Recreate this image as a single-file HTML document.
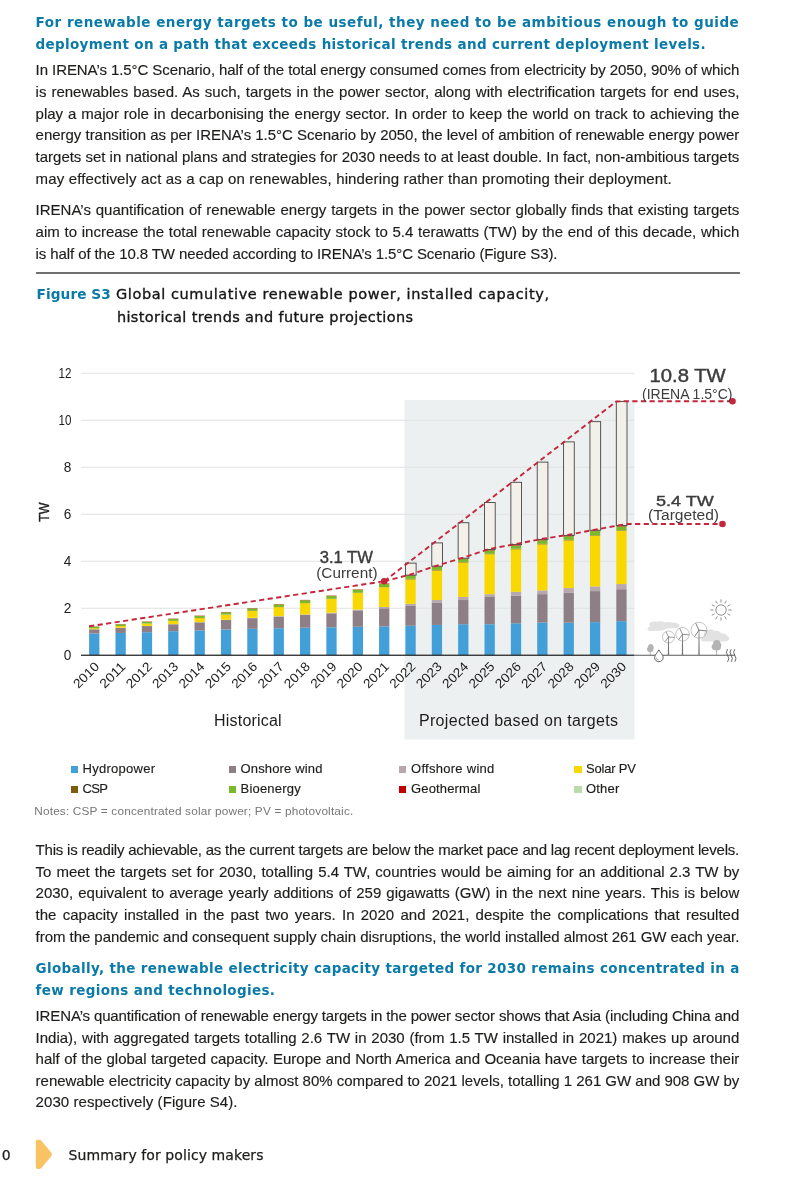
<!DOCTYPE html>
<html lang="en"><head><meta charset="utf-8"><title>Summary for policy makers</title>
<style>
html,body{margin:0;padding:0;background:#fff}
#pg{position:relative;width:800px;height:1180px;overflow:hidden;background:#fff}
.l{position:absolute;white-space:pre;line-height:20px;height:20px}
.b{font-family:"Liberation Sans",sans-serif;font-size:15px;color:#1d1d1b;-webkit-text-stroke:0.15px #1d1d1b}
.h{font-family:"DejaVu Sans","Liberation Sans",sans-serif;font-size:13.5px;font-weight:bold;color:#0a7aa8}
.hb{font-size:13.7px}
.c{font-family:"DejaVu Sans","Liberation Sans",sans-serif;font-size:14.5px;color:#161616;-webkit-text-stroke:0.35px #161616}
.n{font-family:"Liberation Sans",sans-serif;font-size:11.8px;color:#777}
.f{font-family:"DejaVu Sans","Liberation Sans",sans-serif;font-size:14px;color:#1d1d1b;-webkit-text-stroke:0.25px #1d1d1b}
.g{font-family:"Liberation Sans",sans-serif;font-size:13px;color:#1d1d1b;-webkit-text-stroke:0.15px #1d1d1b}
.k{font-family:"Liberation Sans",sans-serif;font-size:16px;color:#1d1d1b}
.sq{position:absolute;width:7.5px;height:7.5px}
#rule{position:absolute;left:35.6px;top:272.4px;width:704px;height:1.2px;background:#707070}
svg{position:absolute;left:0;top:0}
svg text{font-family:"Liberation Sans",sans-serif}
</style></head>
<body><div id="pg">
<svg width="800" height="1180" viewBox="0 0 800 1180">
<rect x="404.4" y="400" width="230.1" height="339.6" fill="#edf0f1"/>
<rect x="81" y="372.75" width="553.5" height="1" fill="#e1e2e2"/>
<rect x="81" y="419.75" width="553.5" height="1" fill="#e1e2e2"/>
<rect x="81" y="466.75" width="553.5" height="1" fill="#e1e2e2"/>
<rect x="81" y="513.75" width="553.5" height="1" fill="#e1e2e2"/>
<rect x="81" y="560.75" width="553.5" height="1" fill="#e1e2e2"/>
<rect x="81" y="607.75" width="553.5" height="1" fill="#e1e2e2"/>
<rect x="89.10" y="633.51" width="10.3" height="21.74" fill="#439fd8"/>
<rect x="89.10" y="629.33" width="10.3" height="4.18" fill="#8d7f85"/>
<rect x="89.10" y="629.26" width="10.3" height="0.07" fill="#b9a7ae"/>
<rect x="89.10" y="628.32" width="10.3" height="0.94" fill="#f8d800"/>
<rect x="89.10" y="628.30" width="10.3" height="0.02" fill="#7d5a0c"/>
<rect x="89.10" y="626.74" width="10.3" height="1.55" fill="#7ab929"/>
<rect x="89.10" y="626.51" width="10.3" height="0.24" fill="#c00000"/>
<rect x="115.46" y="632.92" width="10.3" height="22.33" fill="#439fd8"/>
<rect x="115.46" y="627.85" width="10.3" height="5.08" fill="#8d7f85"/>
<rect x="115.46" y="627.75" width="10.3" height="0.09" fill="#b9a7ae"/>
<rect x="115.46" y="626.06" width="10.3" height="1.69" fill="#f8d800"/>
<rect x="115.46" y="626.02" width="10.3" height="0.05" fill="#7d5a0c"/>
<rect x="115.46" y="624.32" width="10.3" height="1.69" fill="#7ab929"/>
<rect x="115.46" y="624.08" width="10.3" height="0.24" fill="#c00000"/>
<rect x="141.82" y="632.22" width="10.3" height="23.03" fill="#439fd8"/>
<rect x="141.82" y="626.06" width="10.3" height="6.16" fill="#8d7f85"/>
<rect x="141.82" y="625.95" width="10.3" height="0.12" fill="#b9a7ae"/>
<rect x="141.82" y="623.57" width="10.3" height="2.37" fill="#f8d800"/>
<rect x="141.82" y="623.50" width="10.3" height="0.07" fill="#7d5a0c"/>
<rect x="141.82" y="621.69" width="10.3" height="1.81" fill="#7ab929"/>
<rect x="141.82" y="621.44" width="10.3" height="0.25" fill="#c00000"/>
<rect x="168.18" y="631.16" width="10.3" height="24.09" fill="#439fd8"/>
<rect x="168.18" y="624.28" width="10.3" height="6.89" fill="#8d7f85"/>
<rect x="168.18" y="624.11" width="10.3" height="0.16" fill="#b9a7ae"/>
<rect x="168.18" y="620.92" width="10.3" height="3.20" fill="#f8d800"/>
<rect x="168.18" y="620.82" width="10.3" height="0.09" fill="#7d5a0c"/>
<rect x="168.18" y="618.85" width="10.3" height="1.97" fill="#7ab929"/>
<rect x="168.18" y="618.59" width="10.3" height="0.26" fill="#c00000"/>
<rect x="194.54" y="630.34" width="10.3" height="24.91" fill="#439fd8"/>
<rect x="194.54" y="622.33" width="10.3" height="8.01" fill="#8d7f85"/>
<rect x="194.54" y="622.14" width="10.3" height="0.19" fill="#b9a7ae"/>
<rect x="194.54" y="618.10" width="10.3" height="4.04" fill="#f8d800"/>
<rect x="194.54" y="617.99" width="10.3" height="0.11" fill="#7d5a0c"/>
<rect x="194.54" y="615.88" width="10.3" height="2.12" fill="#7ab929"/>
<rect x="194.54" y="615.61" width="10.3" height="0.27" fill="#c00000"/>
<rect x="220.90" y="629.52" width="10.3" height="25.73" fill="#439fd8"/>
<rect x="220.90" y="620.02" width="10.3" height="9.49" fill="#8d7f85"/>
<rect x="220.90" y="619.74" width="10.3" height="0.28" fill="#b9a7ae"/>
<rect x="220.90" y="614.62" width="10.3" height="5.12" fill="#f8d800"/>
<rect x="220.90" y="614.51" width="10.3" height="0.11" fill="#7d5a0c"/>
<rect x="220.90" y="612.25" width="10.3" height="2.26" fill="#7ab929"/>
<rect x="220.90" y="611.97" width="10.3" height="0.28" fill="#c00000"/>
<rect x="247.26" y="628.81" width="10.3" height="26.44" fill="#439fd8"/>
<rect x="247.26" y="618.17" width="10.3" height="10.65" fill="#8d7f85"/>
<rect x="247.26" y="617.84" width="10.3" height="0.33" fill="#b9a7ae"/>
<rect x="247.26" y="611.00" width="10.3" height="6.84" fill="#f8d800"/>
<rect x="247.26" y="610.89" width="10.3" height="0.11" fill="#7d5a0c"/>
<rect x="247.26" y="608.42" width="10.3" height="2.47" fill="#7ab929"/>
<rect x="247.26" y="608.13" width="10.3" height="0.29" fill="#c00000"/>
<rect x="273.62" y="628.23" width="10.3" height="27.02" fill="#439fd8"/>
<rect x="273.62" y="616.57" width="10.3" height="11.66" fill="#8d7f85"/>
<rect x="273.62" y="616.12" width="10.3" height="0.45" fill="#b9a7ae"/>
<rect x="273.62" y="607.10" width="10.3" height="9.02" fill="#f8d800"/>
<rect x="273.62" y="606.98" width="10.3" height="0.12" fill="#7d5a0c"/>
<rect x="273.62" y="604.37" width="10.3" height="2.61" fill="#7ab929"/>
<rect x="273.62" y="604.07" width="10.3" height="0.31" fill="#c00000"/>
<rect x="299.98" y="627.71" width="10.3" height="27.54" fill="#439fd8"/>
<rect x="299.98" y="615.02" width="10.3" height="12.69" fill="#8d7f85"/>
<rect x="299.98" y="614.45" width="10.3" height="0.56" fill="#b9a7ae"/>
<rect x="299.98" y="603.13" width="10.3" height="11.33" fill="#f8d800"/>
<rect x="299.98" y="602.99" width="10.3" height="0.13" fill="#7d5a0c"/>
<rect x="299.98" y="600.22" width="10.3" height="2.77" fill="#7ab929"/>
<rect x="299.98" y="599.90" width="10.3" height="0.32" fill="#c00000"/>
<rect x="326.34" y="627.28" width="10.3" height="27.97" fill="#439fd8"/>
<rect x="326.34" y="613.33" width="10.3" height="13.96" fill="#8d7f85"/>
<rect x="326.34" y="612.67" width="10.3" height="0.66" fill="#b9a7ae"/>
<rect x="326.34" y="598.97" width="10.3" height="13.70" fill="#f8d800"/>
<rect x="326.34" y="598.82" width="10.3" height="0.15" fill="#7d5a0c"/>
<rect x="326.34" y="595.91" width="10.3" height="2.91" fill="#7ab929"/>
<rect x="326.34" y="595.58" width="10.3" height="0.33" fill="#c00000"/>
<rect x="352.70" y="626.79" width="10.3" height="28.46" fill="#439fd8"/>
<rect x="352.70" y="610.39" width="10.3" height="16.40" fill="#8d7f85"/>
<rect x="352.70" y="609.59" width="10.3" height="0.80" fill="#b9a7ae"/>
<rect x="352.70" y="592.90" width="10.3" height="16.69" fill="#f8d800"/>
<rect x="352.70" y="592.75" width="10.3" height="0.15" fill="#7d5a0c"/>
<rect x="352.70" y="589.63" width="10.3" height="3.13" fill="#7ab929"/>
<rect x="352.70" y="589.29" width="10.3" height="0.33" fill="#c00000"/>
<rect x="379.06" y="626.35" width="10.3" height="28.90" fill="#439fd8"/>
<rect x="379.06" y="608.27" width="10.3" height="18.07" fill="#8d7f85"/>
<rect x="379.06" y="606.96" width="10.3" height="1.32" fill="#b9a7ae"/>
<rect x="379.06" y="587.15" width="10.3" height="19.81" fill="#f8d800"/>
<rect x="379.06" y="587.00" width="10.3" height="0.15" fill="#7d5a0c"/>
<rect x="379.06" y="583.64" width="10.3" height="3.36" fill="#7ab929"/>
<rect x="379.06" y="583.27" width="10.3" height="0.37" fill="#c00000"/>
<rect x="405.42" y="625.76" width="10.3" height="29.49" fill="#439fd8"/>
<rect x="405.42" y="605.43" width="10.3" height="20.33" fill="#8d7f85"/>
<rect x="405.42" y="603.78" width="10.3" height="1.64" fill="#b9a7ae"/>
<rect x="405.42" y="579.35" width="10.3" height="24.44" fill="#f8d800"/>
<rect x="405.42" y="578.88" width="10.3" height="0.47" fill="#7d5a0c"/>
<rect x="405.42" y="575.98" width="10.3" height="2.89" fill="#7ab929"/>
<rect x="405.42" y="575.40" width="10.3" height="0.59" fill="#c00000"/>
<rect x="405.42" y="575.12" width="10.3" height="0.28" fill="#b9dcaa"/>
<rect x="405.42" y="563.13" width="10.70" height="11.99" fill="#f3f0ea" stroke="#454545" stroke-width="0.9"/>
<rect x="431.78" y="624.93" width="10.3" height="30.32" fill="#439fd8"/>
<rect x="431.78" y="602.49" width="10.3" height="22.44" fill="#8d7f85"/>
<rect x="431.78" y="600.02" width="10.3" height="2.47" fill="#b9a7ae"/>
<rect x="431.78" y="570.41" width="10.3" height="29.61" fill="#f8d800"/>
<rect x="431.78" y="569.95" width="10.3" height="0.47" fill="#7d5a0c"/>
<rect x="431.78" y="567.05" width="10.3" height="2.89" fill="#7ab929"/>
<rect x="431.78" y="566.47" width="10.3" height="0.59" fill="#c00000"/>
<rect x="431.78" y="566.18" width="10.3" height="0.28" fill="#b9dcaa"/>
<rect x="431.78" y="542.92" width="10.70" height="23.26" fill="#f3f0ea" stroke="#454545" stroke-width="0.9"/>
<rect x="458.14" y="624.23" width="10.3" height="31.02" fill="#439fd8"/>
<rect x="458.14" y="600.02" width="10.3" height="24.21" fill="#8d7f85"/>
<rect x="458.14" y="596.97" width="10.3" height="3.05" fill="#b9a7ae"/>
<rect x="458.14" y="562.42" width="10.3" height="34.55" fill="#f8d800"/>
<rect x="458.14" y="561.96" width="10.3" height="0.47" fill="#7d5a0c"/>
<rect x="458.14" y="559.06" width="10.3" height="2.89" fill="#7ab929"/>
<rect x="458.14" y="558.48" width="10.3" height="0.59" fill="#c00000"/>
<rect x="458.14" y="558.20" width="10.3" height="0.28" fill="#b9dcaa"/>
<rect x="458.14" y="522.71" width="10.70" height="35.49" fill="#f3f0ea" stroke="#454545" stroke-width="0.9"/>
<rect x="484.50" y="624.23" width="10.3" height="31.02" fill="#439fd8"/>
<rect x="484.50" y="596.97" width="10.3" height="27.26" fill="#8d7f85"/>
<rect x="484.50" y="594.15" width="10.3" height="2.82" fill="#b9a7ae"/>
<rect x="484.50" y="554.20" width="10.3" height="39.95" fill="#f8d800"/>
<rect x="484.50" y="553.73" width="10.3" height="0.47" fill="#7d5a0c"/>
<rect x="484.50" y="550.37" width="10.3" height="3.36" fill="#7ab929"/>
<rect x="484.50" y="549.78" width="10.3" height="0.59" fill="#c00000"/>
<rect x="484.50" y="549.50" width="10.3" height="0.28" fill="#b9dcaa"/>
<rect x="484.50" y="502.50" width="10.70" height="47.00" fill="#f3f0ea" stroke="#454545" stroke-width="0.9"/>
<rect x="510.86" y="623.29" width="10.3" height="31.96" fill="#439fd8"/>
<rect x="510.86" y="595.56" width="10.3" height="27.73" fill="#8d7f85"/>
<rect x="510.86" y="591.80" width="10.3" height="3.76" fill="#b9a7ae"/>
<rect x="510.86" y="549.26" width="10.3" height="42.53" fill="#f8d800"/>
<rect x="510.86" y="548.80" width="10.3" height="0.47" fill="#7d5a0c"/>
<rect x="510.86" y="545.43" width="10.3" height="3.36" fill="#7ab929"/>
<rect x="510.86" y="544.85" width="10.3" height="0.59" fill="#c00000"/>
<rect x="510.86" y="544.57" width="10.3" height="0.28" fill="#b9dcaa"/>
<rect x="510.86" y="482.29" width="10.70" height="62.28" fill="#f3f0ea" stroke="#454545" stroke-width="0.9"/>
<rect x="537.22" y="622.59" width="10.3" height="32.66" fill="#439fd8"/>
<rect x="537.22" y="594.15" width="10.3" height="28.44" fill="#8d7f85"/>
<rect x="537.22" y="590.39" width="10.3" height="3.76" fill="#b9a7ae"/>
<rect x="537.22" y="544.33" width="10.3" height="46.06" fill="#f8d800"/>
<rect x="537.22" y="543.86" width="10.3" height="0.47" fill="#7d5a0c"/>
<rect x="537.22" y="540.26" width="10.3" height="3.60" fill="#7ab929"/>
<rect x="537.22" y="539.68" width="10.3" height="0.59" fill="#c00000"/>
<rect x="537.22" y="539.39" width="10.3" height="0.28" fill="#b9dcaa"/>
<rect x="537.22" y="462.08" width="10.70" height="77.31" fill="#f3f0ea" stroke="#454545" stroke-width="0.9"/>
<rect x="563.58" y="622.70" width="10.3" height="32.55" fill="#439fd8"/>
<rect x="563.58" y="592.50" width="10.3" height="30.20" fill="#8d7f85"/>
<rect x="563.58" y="588.04" width="10.3" height="4.47" fill="#b9a7ae"/>
<rect x="563.58" y="540.34" width="10.3" height="47.70" fill="#f8d800"/>
<rect x="563.58" y="539.87" width="10.3" height="0.47" fill="#7d5a0c"/>
<rect x="563.58" y="536.27" width="10.3" height="3.60" fill="#7ab929"/>
<rect x="563.58" y="535.68" width="10.3" height="0.59" fill="#c00000"/>
<rect x="563.58" y="535.40" width="10.3" height="0.28" fill="#b9dcaa"/>
<rect x="563.58" y="441.87" width="10.70" height="93.53" fill="#f3f0ea" stroke="#454545" stroke-width="0.9"/>
<rect x="589.94" y="622.12" width="10.3" height="33.13" fill="#439fd8"/>
<rect x="589.94" y="591.10" width="10.3" height="31.02" fill="#8d7f85"/>
<rect x="589.94" y="586.39" width="10.3" height="4.70" fill="#b9a7ae"/>
<rect x="589.94" y="535.63" width="10.3" height="50.76" fill="#f8d800"/>
<rect x="589.94" y="535.16" width="10.3" height="0.47" fill="#7d5a0c"/>
<rect x="589.94" y="531.10" width="10.3" height="4.07" fill="#7ab929"/>
<rect x="589.94" y="530.51" width="10.3" height="0.59" fill="#c00000"/>
<rect x="589.94" y="530.23" width="10.3" height="0.28" fill="#b9dcaa"/>
<rect x="589.94" y="421.66" width="10.70" height="108.57" fill="#f3f0ea" stroke="#454545" stroke-width="0.9"/>
<rect x="616.30" y="621.17" width="10.3" height="34.08" fill="#439fd8"/>
<rect x="616.30" y="589.22" width="10.3" height="31.96" fill="#8d7f85"/>
<rect x="616.30" y="584.04" width="10.3" height="5.17" fill="#b9a7ae"/>
<rect x="616.30" y="530.70" width="10.3" height="53.34" fill="#f8d800"/>
<rect x="616.30" y="530.23" width="10.3" height="0.47" fill="#7d5a0c"/>
<rect x="616.30" y="526.40" width="10.3" height="3.83" fill="#7ab929"/>
<rect x="616.30" y="525.81" width="10.3" height="0.59" fill="#c00000"/>
<rect x="616.30" y="525.53" width="10.3" height="0.28" fill="#b9dcaa"/>
<rect x="616.30" y="401.45" width="10.70" height="124.08" fill="#f3f0ea" stroke="#454545" stroke-width="0.9"/>
<rect x="81" y="654.60" width="553.5" height="1.3" fill="#2b2b2b"/>
<rect x="634.5" y="654.75" width="100.5" height="1" fill="#5a5a5a"/>
<g fill="none" stroke="#c4273b" stroke-width="1.9" stroke-dasharray="5.2 3.4">
<path d="M89.10 626.3 L384.21 581.25"/>
<path d="M384.21 581.25 L410.57 574.51 L436.93 565.58 L463.29 557.60 L489.65 548.90 L516.01 543.97 L542.37 538.79 L568.73 534.80 L595.09 529.63 L621.45 524.93 L627.60 524 L722.5 524"/>
<path d="M384.21 581.25 L616.30 401.45 L627.60 401.2 L732.5 401.2"/>
</g>
<circle cx="384.21" cy="581.25" r="3.3" fill="#c4273b"/>
<circle cx="722.50" cy="524" r="3.3" fill="#c4273b"/>
<circle cx="732.50" cy="401.2" r="3.3" fill="#c4273b"/>
<text x="71.4" y="378.35" font-size="14" text-anchor="end" fill="#1d1d1b" textLength="12.9" lengthAdjust="spacingAndGlyphs">12</text>
<text x="71.4" y="425.35" font-size="14" text-anchor="end" fill="#1d1d1b" textLength="12.9" lengthAdjust="spacingAndGlyphs">10</text>
<text x="71.4" y="472.35" font-size="14" text-anchor="end" fill="#1d1d1b" textLength="7.6" lengthAdjust="spacingAndGlyphs">8</text>
<text x="71.4" y="519.35" font-size="14" text-anchor="end" fill="#1d1d1b" textLength="7.6" lengthAdjust="spacingAndGlyphs">6</text>
<text x="71.4" y="566.35" font-size="14" text-anchor="end" fill="#1d1d1b" textLength="7.6" lengthAdjust="spacingAndGlyphs">4</text>
<text x="71.4" y="613.35" font-size="14" text-anchor="end" fill="#1d1d1b" textLength="7.6" lengthAdjust="spacingAndGlyphs">2</text>
<text x="71.4" y="660.35" font-size="14" text-anchor="end" fill="#1d1d1b" textLength="7.6" lengthAdjust="spacingAndGlyphs">0</text>
<text transform="translate(49 521.8) rotate(-90)" font-size="14" fill="#1d1d1b" stroke="#1d1d1b" stroke-width="0.35" textLength="19.3" lengthAdjust="spacingAndGlyphs">TW</text>
<text transform="translate(100.05 667.45) rotate(-45)" font-size="13" text-anchor="end" fill="#1d1d1b" textLength="30.5" lengthAdjust="spacingAndGlyphs">2010</text>
<text transform="translate(126.41 667.45) rotate(-45)" font-size="13" text-anchor="end" fill="#1d1d1b" textLength="30.5" lengthAdjust="spacingAndGlyphs">2011</text>
<text transform="translate(152.77 667.45) rotate(-45)" font-size="13" text-anchor="end" fill="#1d1d1b" textLength="30.5" lengthAdjust="spacingAndGlyphs">2012</text>
<text transform="translate(179.13 667.45) rotate(-45)" font-size="13" text-anchor="end" fill="#1d1d1b" textLength="30.5" lengthAdjust="spacingAndGlyphs">2013</text>
<text transform="translate(205.49 667.45) rotate(-45)" font-size="13" text-anchor="end" fill="#1d1d1b" textLength="30.5" lengthAdjust="spacingAndGlyphs">2014</text>
<text transform="translate(231.85 667.45) rotate(-45)" font-size="13" text-anchor="end" fill="#1d1d1b" textLength="30.5" lengthAdjust="spacingAndGlyphs">2015</text>
<text transform="translate(258.21 667.45) rotate(-45)" font-size="13" text-anchor="end" fill="#1d1d1b" textLength="30.5" lengthAdjust="spacingAndGlyphs">2016</text>
<text transform="translate(284.57 667.45) rotate(-45)" font-size="13" text-anchor="end" fill="#1d1d1b" textLength="30.5" lengthAdjust="spacingAndGlyphs">2017</text>
<text transform="translate(310.93 667.45) rotate(-45)" font-size="13" text-anchor="end" fill="#1d1d1b" textLength="30.5" lengthAdjust="spacingAndGlyphs">2018</text>
<text transform="translate(337.29 667.45) rotate(-45)" font-size="13" text-anchor="end" fill="#1d1d1b" textLength="30.5" lengthAdjust="spacingAndGlyphs">2019</text>
<text transform="translate(363.65 667.45) rotate(-45)" font-size="13" text-anchor="end" fill="#1d1d1b" textLength="30.5" lengthAdjust="spacingAndGlyphs">2020</text>
<text transform="translate(390.01 667.45) rotate(-45)" font-size="13" text-anchor="end" fill="#1d1d1b" textLength="30.5" lengthAdjust="spacingAndGlyphs">2021</text>
<text transform="translate(416.37 667.45) rotate(-45)" font-size="13" text-anchor="end" fill="#1d1d1b" textLength="30.5" lengthAdjust="spacingAndGlyphs">2022</text>
<text transform="translate(442.73 667.45) rotate(-45)" font-size="13" text-anchor="end" fill="#1d1d1b" textLength="30.5" lengthAdjust="spacingAndGlyphs">2023</text>
<text transform="translate(469.09 667.45) rotate(-45)" font-size="13" text-anchor="end" fill="#1d1d1b" textLength="30.5" lengthAdjust="spacingAndGlyphs">2024</text>
<text transform="translate(495.45 667.45) rotate(-45)" font-size="13" text-anchor="end" fill="#1d1d1b" textLength="30.5" lengthAdjust="spacingAndGlyphs">2025</text>
<text transform="translate(521.81 667.45) rotate(-45)" font-size="13" text-anchor="end" fill="#1d1d1b" textLength="30.5" lengthAdjust="spacingAndGlyphs">2026</text>
<text transform="translate(548.17 667.45) rotate(-45)" font-size="13" text-anchor="end" fill="#1d1d1b" textLength="30.5" lengthAdjust="spacingAndGlyphs">2027</text>
<text transform="translate(574.53 667.45) rotate(-45)" font-size="13" text-anchor="end" fill="#1d1d1b" textLength="30.5" lengthAdjust="spacingAndGlyphs">2028</text>
<text transform="translate(600.89 667.45) rotate(-45)" font-size="13" text-anchor="end" fill="#1d1d1b" textLength="30.5" lengthAdjust="spacingAndGlyphs">2029</text>
<text transform="translate(627.25 667.45) rotate(-45)" font-size="13" text-anchor="end" fill="#1d1d1b" textLength="30.5" lengthAdjust="spacingAndGlyphs">2030</text>
<text x="649.5" y="382.0" font-size="17.5" fill="#3c3c3c" stroke="#3c3c3c" stroke-width="0.4" textLength="76.25" lengthAdjust="spacingAndGlyphs">10.8 TW</text>
<text x="642.0" y="398.6" font-size="14.5" fill="#3c3c3c" textLength="90.50" lengthAdjust="spacingAndGlyphs">(IRENA 1.5°C)</text>
<text x="656.0" y="505.75" font-size="15.2" fill="#3c3c3c" stroke="#3c3c3c" stroke-width="0.4" textLength="57.75" lengthAdjust="spacingAndGlyphs">5.4 TW</text>
<text x="648.0" y="519.6" font-size="14" fill="#3c3c3c" textLength="71.00" lengthAdjust="spacingAndGlyphs">(Targeted)</text>
<text x="319.75" y="562.5" font-size="16" fill="#3c3c3c" stroke="#3c3c3c" stroke-width="0.4" textLength="53.15" lengthAdjust="spacingAndGlyphs">3.1 TW</text>
<text x="316.25" y="577.9" font-size="14" fill="#3c3c3c" textLength="61.25" lengthAdjust="spacingAndGlyphs">(Current)</text>
<g id="icons">
<path d="M650 631 q-3 -0.2 -2.5 -2.6 q0.4 -2 3 -2.2 q-2.6 -2.2 0.2 -4 q2 -1.2 6 -0.4 q5 -1.4 8 0.6 q4 -1.2 8 0.4 q5 -0.4 6.5 1.8 q1.2 2.6 -2.5 3.4 q-6 0.6 -10 0.4 q-3 2.2 -7 2.4 z" fill="#e2e2e2"/>
<path d="M702 641.5 q-2 -3.5 2 -5 q-1.5 -4.5 3 -6.5 q4.5 -2 8 1 q4 -1 6 2.2 q5 0.2 6.5 3 q2.2 0.6 1.8 2.8 q-0.6 2.4 -4 2.5 z" fill="#e2e2e2"/>
<path d="M650.3 655 V648" stroke="#9a9a9a" stroke-width="0.7" fill="none"/>
<path d="M647.2 650.5 q-1 -2 0.8 -3.4 q-0.2 -2.6 2.2 -3 q2.6 -0.6 3 2 q1.4 1.6 0.2 3.2 q0.4 2.2 -2 2.6 q-3 0.8 -4.2 -1.4z" fill="#b4b4b4"/>
<path d="M716.6 655 V647" stroke="#9a9a9a" stroke-width="0.8" fill="none"/>
<path d="M712 648.5 q-1.2 -2.6 1 -4.4 q0 -3.4 3.2 -4 q3.6 -0.6 4.2 2.6 q1.8 2 0.4 4.2 q0.4 3 -2.8 3.4 q-4.4 1 -6 -1.8z" fill="#b4b4b4"/>
<circle cx="668.5" cy="637.0" r="6.0" fill="none" stroke="#8a8a8a" stroke-width="0.5"/>
<path d="M667.8 655.25 L668.15 637.0 L668.85 637.0 L669.2 655.25z" fill="#777"/>
<path d="M668.5 637.0 L666.17 632.00" stroke="#7a7a7a" stroke-width="0.77" stroke-linecap="round"/>
<path d="M668.5 637.0 L674.00 637.48" stroke="#7a7a7a" stroke-width="0.77" stroke-linecap="round"/>
<path d="M668.5 637.0 L665.33 641.52" stroke="#7a7a7a" stroke-width="0.77" stroke-linecap="round"/>
<circle cx="682.5" cy="634.3" r="6.8" fill="none" stroke="#8a8a8a" stroke-width="0.5"/>
<path d="M681.8 655.25 L682.15 634.3 L682.85 634.3 L683.2 655.25z" fill="#777"/>
<path d="M682.5 634.3 L679.86 628.63" stroke="#7a7a7a" stroke-width="0.85" stroke-linecap="round"/>
<path d="M682.5 634.3 L688.73 634.85" stroke="#7a7a7a" stroke-width="0.85" stroke-linecap="round"/>
<path d="M682.5 634.3 L678.91 639.42" stroke="#7a7a7a" stroke-width="0.85" stroke-linecap="round"/>
<circle cx="699.0" cy="630.2" r="8.0" fill="none" stroke="#8a8a8a" stroke-width="0.5"/>
<path d="M698.3 655.25 L698.65 630.2 L699.35 630.2 L699.7 655.25z" fill="#777"/>
<path d="M699.0 630.2 L695.89 623.53" stroke="#7a7a7a" stroke-width="0.94" stroke-linecap="round"/>
<path d="M699.0 630.2 L706.33 630.84" stroke="#7a7a7a" stroke-width="0.94" stroke-linecap="round"/>
<path d="M699.0 630.2 L694.78 636.23" stroke="#7a7a7a" stroke-width="0.94" stroke-linecap="round"/>
<path d="M658.9 649.8 C660.2 652.6 663.2 655 663.2 657.6 A4.3 4.1 0 0 1 654.6 657.6 C654.6 655 657.6 652.6 658.9 649.8z" fill="#fff" stroke="#555" stroke-width="0.9"/>
<path d="M656.3 657.6 a2.6 2.4 0 0 0 2.4 2.4" fill="none" stroke="#777" stroke-width="0.6"/>
<path d="M727.6 649.2 q-2.4 3 0 6.2 q2.4 3.2 0 6.4" fill="none" stroke="#555" stroke-width="0.9"/>
<path d="M731.2 649.2 q-2.4 3 0 6.2 q2.4 3.2 0 6.4" fill="none" stroke="#555" stroke-width="0.9"/>
<path d="M734.8 649.2 q-2.4 3 0 6.2 q2.4 3.2 0 6.4" fill="none" stroke="#555" stroke-width="0.9"/>
<circle cx="721" cy="610" r="5.2" fill="#fff" stroke="#606060" stroke-width="0.7"/>
<path d="M728.40 610.00 L731.60 610.00" stroke="#606060" stroke-width="0.7"/>
<path d="M727.41 613.70 L730.18 615.30" stroke="#606060" stroke-width="0.7"/>
<path d="M724.70 616.41 L726.30 619.18" stroke="#606060" stroke-width="0.7"/>
<path d="M721.00 617.40 L721.00 620.60" stroke="#606060" stroke-width="0.7"/>
<path d="M717.30 616.41 L715.70 619.18" stroke="#606060" stroke-width="0.7"/>
<path d="M714.59 613.70 L711.82 615.30" stroke="#606060" stroke-width="0.7"/>
<path d="M713.60 610.00 L710.40 610.00" stroke="#606060" stroke-width="0.7"/>
<path d="M714.59 606.30 L711.82 604.70" stroke="#606060" stroke-width="0.7"/>
<path d="M717.30 603.59 L715.70 600.82" stroke="#606060" stroke-width="0.7"/>
<path d="M721.00 602.60 L721.00 599.40" stroke="#606060" stroke-width="0.7"/>
<path d="M724.70 603.59 L726.30 600.82" stroke="#606060" stroke-width="0.7"/>
<path d="M727.41 606.30 L730.18 604.70" stroke="#606060" stroke-width="0.7"/>
</g>
</svg>
<svg width="800" height="1180" viewBox="0 0 800 1180" style="pointer-events:none"><path d="M37.6 1139.8 H39.2 Q40.6 1139.8 41.6 1141 L51.2 1152.6 Q52.6 1154.4 51.2 1156.2 L41.6 1167.8 Q40.6 1169 39.2 1169 H37.6 Q35.8 1169 35.8 1167.2 V1141.6 Q35.8 1139.8 37.6 1139.8z" fill="#f9c262"/></svg>
<div id="rule"></div>
<div class="l h" style="left:35.60px;top:12.33px;letter-spacing:0.494px;">For renewable energy targets to be useful, they need to be ambitious enough to guide</div>
<div class="l h" style="left:35.60px;top:34.13px;letter-spacing:0.325px;">deployment on a path that exceeds historical trends and current deployment levels.</div>
<div class="l b" style="left:35.60px;top:60.30px;letter-spacing:-0.076px;">In IRENA’s 1.5°C Scenario, half of the total energy consumed comes from electricity by 2050, 90% of which</div>
<div class="l b" style="left:35.60px;top:82.00px;word-spacing:0.833px;">is renewables based. As such, targets in the power sector, along with electrification targets for end uses,</div>
<div class="l b" style="left:35.60px;top:103.70px;word-spacing:0.788px;">play a major role in decarbonising the energy sector. In order to keep the world on track to achieving the</div>
<div class="l b" style="left:35.60px;top:125.40px;letter-spacing:-0.021px;">energy transition as per IRENA’s 1.5°C Scenario by 2050, the level of ambition of renewable energy power</div>
<div class="l b" style="left:35.60px;top:147.10px;letter-spacing:-0.016px;">targets set in national plans and strategies for 2030 needs to at least double. In fact, non-ambitious targets</div>
<div class="l b" style="left:35.60px;top:168.80px;letter-spacing:0.148px;">may effectively act as a cap on renewables, hindering rather than promoting their deployment.</div>
<div class="l b" style="left:35.60px;top:200.20px;word-spacing:0.693px;">IRENA’s quantification of renewable energy targets in the power sector globally finds that existing targets</div>
<div class="l b" style="left:35.60px;top:221.90px;word-spacing:0.556px;">aim to increase the total renewable capacity stock to 5.4 terawatts (TW) by the end of this decade, which</div>
<div class="l b" style="left:35.60px;top:243.60px;letter-spacing:-0.100px;">is half of the 10.8 TW needed according to IRENA’s 1.5°C Scenario (Figure S3).</div>
<div class="l b" style="left:35.60px;top:840.05px;letter-spacing:-0.207px;">This is readily achievable, as the current targets are below the market pace and lag recent deployment levels.</div>
<div class="l b" style="left:35.60px;top:861.70px;word-spacing:0.818px;">To meet the targets set for 2030, totalling 5.4 TW, countries would be aiming for an additional 2.3 TW by</div>
<div class="l b" style="left:35.60px;top:883.35px;word-spacing:0.897px;">2030, equivalent to average yearly additions of 259 gigawatts (GW) in the next nine years. This is below</div>
<div class="l b" style="left:35.60px;top:905.00px;word-spacing:2.132px;">the capacity installed in the past two years. In 2020 and 2021, despite the complications that resulted</div>
<div class="l b" style="left:35.60px;top:926.65px;letter-spacing:-0.049px;">from the pandemic and consequent supply chain disruptions, the world installed almost 261 GW each year.</div>
<div class="l h" style="left:35.60px;top:958.23px;letter-spacing:0.339px;">Globally, the renewable electricity capacity targeted for 2030 remains concentrated in a</div>
<div class="l h" style="left:35.60px;top:979.93px;letter-spacing:0.349px;">few regions and technologies.</div>
<div class="l b" style="left:35.60px;top:1006.05px;letter-spacing:-0.137px;">IRENA’s quantification of renewable energy targets in the power sector shows that Asia (including China and</div>
<div class="l b" style="left:35.60px;top:1027.65px;word-spacing:0.619px;">India), with aggregated targets totalling 2.6 TW in 2030 (from 1.5 TW installed in 2021) makes up around</div>
<div class="l b" style="left:35.60px;top:1049.25px;word-spacing:0.274px;">half of the global targeted capacity. Europe and North America and Oceania have targets to increase their</div>
<div class="l b" style="left:35.60px;top:1070.85px;letter-spacing:-0.016px;">renewable electricity capacity by almost 80% compared to 2021 levels, totalling 1 261 GW and 908 GW by</div>
<div class="l b" style="left:35.60px;top:1092.45px;letter-spacing:0.062px;">2030 respectively (Figure S4).</div>
<div class="l h hb" style="left:36.60px;top:283.56px;letter-spacing:0.054px;">Figure S3</div>
<div class="l c" style="left:116.00px;top:283.68px;letter-spacing:0.580px;">Global cumulative renewable power, installed capacity,</div>
<div class="l c" style="left:116.90px;top:306.58px;letter-spacing:0.366px;">historical trends and future projections</div>
<div class="l n" style="left:34.25px;top:800.91px;letter-spacing:0.173px;">Notes: CSP = concentrated solar power; PV = photovoltaic.</div>
<div class="l f" style="left:1.75px;top:1145.16px;">0</div>
<div class="l f" style="left:68.60px;top:1145.16px;letter-spacing:0.080px;">Summary for policy makers</div>
<div class="l g" style="left:82.50px;top:758.75px;letter-spacing:0.267px;">Hydropower</div>
<div class="l g" style="left:240.50px;top:758.75px;letter-spacing:0.162px;">Onshore wind</div>
<div class="l g" style="left:411.00px;top:758.75px;letter-spacing:0.278px;">Offshore wind</div>
<div class="l g" style="left:586.00px;top:758.75px;letter-spacing:-0.188px;">Solar PV</div>
<div class="l g" style="left:82.50px;top:778.75px;letter-spacing:-0.600px;">CSP</div>
<div class="l g" style="left:240.50px;top:778.75px;letter-spacing:0.213px;">Bioenergy</div>
<div class="l g" style="left:411.00px;top:778.75px;letter-spacing:0.153px;">Geothermal</div>
<div class="l g" style="left:586.00px;top:778.75px;letter-spacing:0.196px;">Other</div>
<div class="l k" style="left:214.10px;top:710.96px;letter-spacing:0.189px;">Historical</div>
<div class="l k" style="left:419.00px;top:710.96px;letter-spacing:0.311px;">Projected based on targets</div>
<div class="sq" style="left:70.75px;top:765.5px;background:#439fd8"></div><div class="sq" style="left:228.75px;top:765.5px;background:#8d7f85"></div><div class="sq" style="left:398.75px;top:765.5px;background:#b9a7ae"></div><div class="sq" style="left:574.4px;top:765.5px;background:#f8d800"></div><div class="sq" style="left:70.75px;top:785.9px;background:#7d5a0c"></div><div class="sq" style="left:228.75px;top:785.9px;background:#7ab929"></div><div class="sq" style="left:398.75px;top:785.9px;background:#c00000"></div><div class="sq" style="left:574.4px;top:785.9px;background:#b9dcaa"></div>
</div></body></html>
